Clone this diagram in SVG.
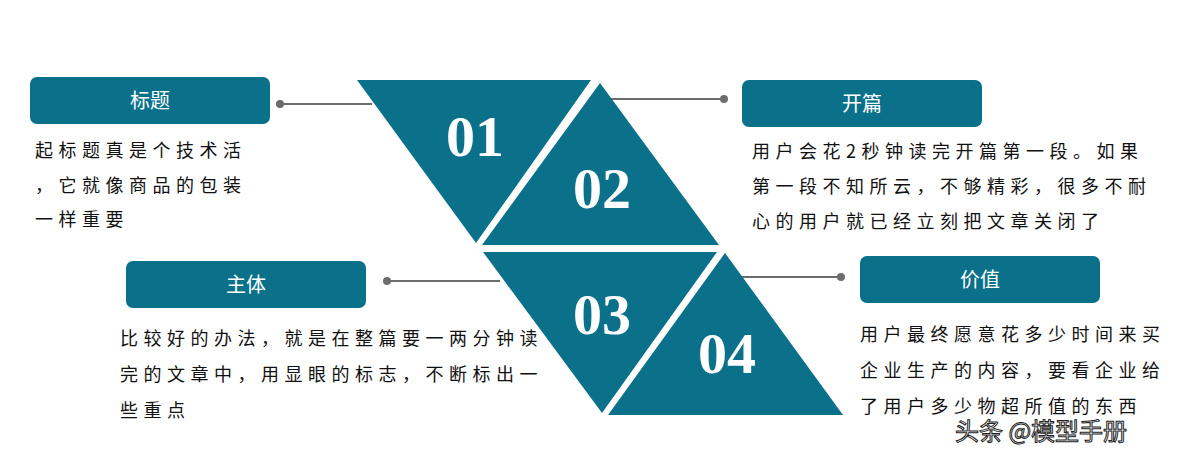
<svg xmlns="http://www.w3.org/2000/svg" width="1184" height="456" viewBox="0 0 1184 456">
<style>
.tri{fill:#0b718a}
.num{font-family:"Liberation Serif",serif;font-weight:bold;font-size:58px;fill:#fff;text-anchor:middle}
.box{fill:#0b718a}
.title{font-family:"Noto Sans CJK SC",sans-serif;font-size:20px;fill:#fff;text-anchor:middle}
.body{font-family:"Noto Sans CJK SC",sans-serif;font-size:18px;fill:#111;letter-spacing:5.5px}
.ln{stroke:#6d6d6d;stroke-width:2}
.dot{fill:#6d6d6d}
</style>
<rect width="1184" height="456" fill="#fff"/>
<g id="connectors">
<line class="ln" x1="280" y1="104" x2="372" y2="104"/><circle class="dot" cx="280" cy="104" r="4"/>
<line class="ln" x1="597" y1="99" x2="723" y2="99"/><circle class="dot" cx="724" cy="99" r="4"/>
<line class="ln" x1="387" y1="281" x2="500" y2="281"/><circle class="dot" cx="387" cy="281" r="4"/>
<line class="ln" x1="715" y1="277" x2="840" y2="277"/><circle class="dot" cx="841" cy="277" r="4"/>
</g>
<g id="n01"><polygon class="tri" points="357,80 591,80 476,243"/><text class="num" x="475" y="156">01</text></g>
<g id="n02"><polygon class="tri" points="600,83 482,245 719,245"/><text class="num" x="602" y="208">02</text></g>
<g id="n03"><polygon class="tri" points="483,252 717,252 602,413"/><text class="num" x="602" y="334">03</text></g>
<g id="n04"><polygon class="tri" points="725,253 608,415 843,415"/><text class="num" x="727" y="373">04</text></g>
<g id="biaoti"><rect class="box" x="30" y="77" width="240" height="47" rx="7"/><text class="title" x="150" y="108">标题</text>
<text class="body" x="35" y="157">起标题真是个技术活</text><text class="body" x="35" y="192">，它就像商品的包装</text><text class="body" x="35" y="226">一样重要</text></g>
<g id="kaipian"><rect class="box" x="742" y="80" width="240" height="47" rx="7"/><text class="title" x="862" y="111">开篇</text>
<text class="body" x="752" y="158">用户会花2秒钟读完开篇第一段。如果</text><text class="body" x="752" y="193">第一段不知所云，不够精彩，很多不耐</text><text class="body" x="752" y="228">心的用户就已经立刻把文章关闭了</text></g>
<g id="zhuti"><rect class="box" x="126" y="261" width="240" height="47" rx="7"/><text class="title" x="246" y="292">主体</text>
<text class="body" x="120" y="345">比较好的办法，就是在整篇要一两分钟读</text><text class="body" x="120" y="381">完的文章中，用显眼的标志，不断标出一</text><text class="body" x="120" y="417">些重点</text></g>
<g id="jiazhi"><rect class="box" x="860" y="256" width="240" height="47" rx="7"/><text class="title" x="980" y="287">价值</text>
<text class="body" x="860" y="341">用户最终愿意花多少时间来买</text><text class="body" x="860" y="377">企业生产的内容，要看企业给</text><text class="body" x="860" y="413">了用户多少物超所值的东西</text></g>
<text x="955" y="440" font-family="Noto Sans CJK SC,sans-serif" font-size="24" fill="#fff" stroke="#222" stroke-width="1">头条 @模型手册</text>
</svg>
